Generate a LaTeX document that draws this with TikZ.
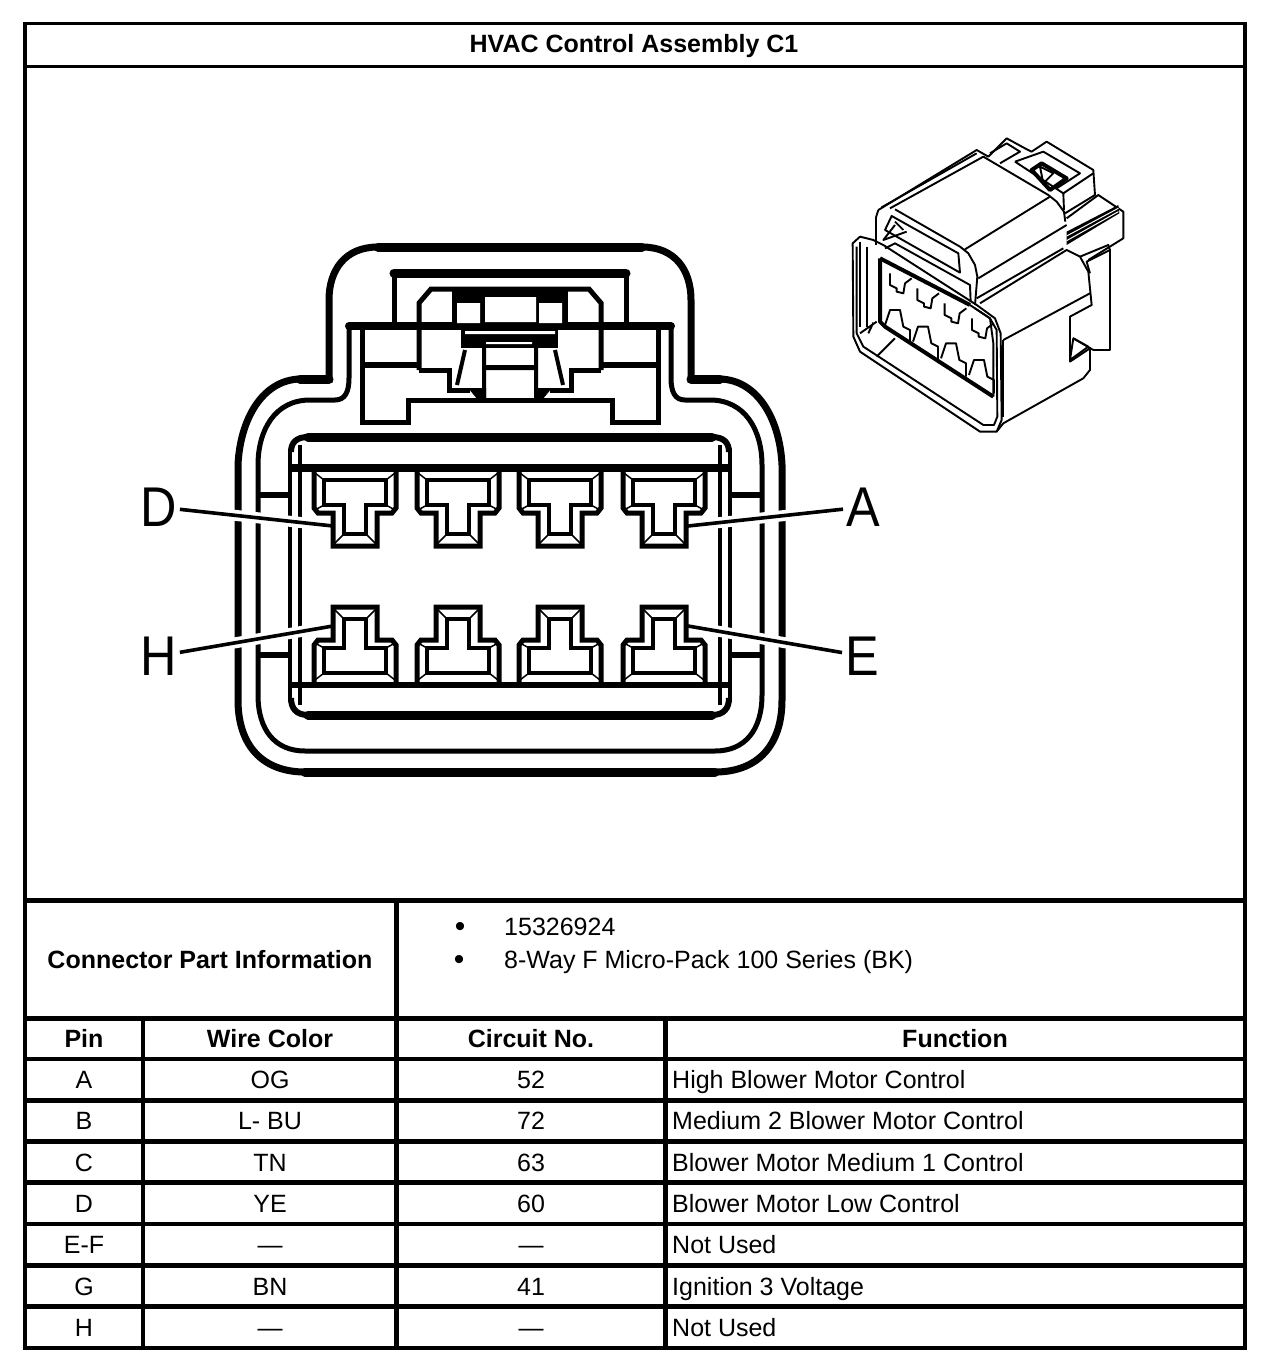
\documentclass[tikz,border=0pt]{standalone}
\usepackage{fontspec}
\setmainfont{Liberation Sans}
\usepackage{tikz}
\usetikzlibrary{positioning}

\tikzset{
	rule/.style={line width=4.5pt},
	framerule/.style={line width=3.4pt},
	cell/.style={anchor=base, inner sep=0pt, font=\fontsize{25}{30}\selectfont},
	head/.style={cell, font=\fontsize{25}{30}\selectfont\bfseries},
	pinlabel/.style={inner sep=3pt, font=\fontsize{56}{60}\selectfont},
	leader/.style={line width=3.6pt, preaction={draw, white, line width=11pt}},
	shell/.style={line width=7pt},
	wall/.style={line width=5pt},
	bar/.style={line width=9pt, line cap=round},
	iso/.style={line width=1.9pt, line join=round},
	isothick/.style={line width=4pt, line join=round},
	socket/.pic={
		\draw[line width=5pt] (-41,0) -- (-41,40) -- (-37,45) -- (-22,45) -- (-22,78) -- (22,78) -- (22,45) -- (37,45) -- (41,40) -- (41,0);
		\draw[line width=4pt] (-31,12) -- (31,12) -- (31,37) -- (11,37) -- (11,66) -- (-11,66) -- (-11,37) -- (-31,37) -- cycle;
		\draw[line width=1.5pt] (-40,5) -- (-31,12) (40,5) -- (31,12) (-40,42) -- (-31,37) (40,42) -- (31,37)
			(-21,76) -- (-11,66) (21,76) -- (11,66);
	}
}

\begin{document}
\begin{tikzpicture}[x=1pt, y=-1pt]
	\useasboundingbox (0,0) rectangle (1264,1370);

	% table rules
	\draw[framerule] (25,23.5) rectangle (1245,900);
	\draw[framerule] (25,66.5) -- (1245,66.5);
	\draw[rule] (25,900.5) -- (1245,900.5);
	\draw[rule] (25,900) -- (25,1348) -- (1245,1348) -- (1245,900);
	\draw[rule] (396.5,900) -- (396.5,1348);
	\draw[rule] (143,1018) -- (143,1348);
	\draw[line width=5pt] (665,1018) -- (665,1348);
	\foreach \liney in {1018.3,1059,1100.3,1141.5,1182.7,1224,1265.5,1306.5}
		\draw[rule] (25,\liney) -- (1245,\liney);

	% texts of the table
	\node[head] (title) at (634,53) {HVAC Control Assembly C1};
	\node[head] (partinfo) at (210,968) {Connector Part Information};
	\node[cell, font=\fontsize{30}{30}\selectfont] (bullet1) at (460,936) {•};
	\node[cell, font=\fontsize{30}{30}\selectfont] (bullet2) at (459,969) {•};
	\node[cell, anchor=base west] (partno) at (504,935) {15326924};
	\node[cell, anchor=base west] (parttype) at (504,968) {8-Way F Micro-Pack 100 Series (BK)};
	\node[head] (pinhead) at (84,1047.5) {Pin};
	\node[head] (wirehead) at (270,1047.5) {Wire Color};
	\node[head] (circuithead) at (531,1047.5) {Circuit No.};
	\node[head] (funchead) at (955,1047.5) {Function};
	\foreach \rowno/\pinname/\wirename/\circuitno/\funcname in {
		0/A/OG/52/High Blower Motor Control,
		1/B/L- BU/72/Medium 2 Blower Motor Control,
		2/C/TN/63/Blower Motor Medium 1 Control,
		3/D/YE/60/Blower Motor Low Control,
		4/E-F/—/—/Not Used,
		5/G/BN/41/Ignition 3 Voltage,
		6/H/—/—/Not Used}
	{
		\node[cell] (pin\rowno) at (84,{1088.5+41.3*\rowno}) {\pinname};
		\node[cell] (wire\rowno) at (270,{1088.5+41.3*\rowno}) {\wirename};
		\node[cell] (circuit\rowno) at (531,{1088.5+41.3*\rowno}) {\circuitno};
		\node[cell, anchor=base west] (func\rowno) at (672,{1088.5+41.3*\rowno}) {\funcname};
	}

	% connector face, outer shell
	\draw[shell] (329,379) -- (300,379) .. controls (262,380) and (240,420) .. (238,465) -- (238,700)
		.. controls (238,745) and (262,772) .. (305,772) -- (715,772)
		.. controls (758,772) and (782,745) .. (782,700) -- (782,465)
		.. controls (780,420) and (758,380) .. (720,379) -- (691,379) -- (691,300)
		.. controls (691,270) and (675,247) .. (642,247) -- (378,247)
		.. controls (345,247) and (329,270) .. (329,300) -- cycle;
	\draw[bar] (378,247) -- (642,247) (305,772.5) -- (715,772.5) (300,379) -- (329,379) (691,379) -- (720,379);
	\draw[wall] (349,326) -- (349,378) .. controls (349,392) and (345,400) .. (335,400) -- (310,400)
		.. controls (275,400) and (258,430) .. (258,465) -- (258,695)
		.. controls (258,730) and (275,751) .. (305,751) -- (715,751)
		.. controls (745,751) and (762,730) .. (762,695) -- (762,465)
		.. controls (762,430) and (745,400) .. (710,400) -- (685,400)
		.. controls (675,400) and (671,392) .. (671,378) -- (671,326);
	\draw[line width=5.5pt] (258,495) -- (290,495) (258,655) -- (290,655) (730,495) -- (762,495) (730,655) -- (762,655);

	% latch
	\draw[line width=8pt, line cap=round] (349,326) -- (671,326);
	\draw[wall] (394,326) -- (394,273) -- (626,273) -- (626,326);
	\draw[bar] (394,273) -- (626,273);
	\draw[wall] (362,326) -- (362,422) -- (408,422) -- (408,400) -- (612,400) -- (612,422) -- (658,422) -- (658,326);
	\draw[line width=6.5pt] (362,365) -- (419,365) (601,365) -- (658,365);
	\draw[wall] (419,370) -- (419,303) -- (431,289) -- (589,289) -- (601,303) -- (601,370);
	\draw[wall] (419,370) -- (449,370) -- (449,390) -- (470,390) (601,370) -- (571,370) -- (571,390) -- (550,390);
	\fill (452,287) rectangle (568,326);
	\fill[white] (485,297) rectangle (536,322) (457,303) rectangle (480,323) (539,303) rectangle (562,323);
	\fill (461,326) rectangle (558,348);
	\fill[white] (465,331) rectangle (555,334) (486,342) rectangle (532,344);
	\fill (482,348) rectangle (486,400) (534,348) rectangle (538,400) (482,365) rectangle (538,370);
	\fill (468,388) -- (486,388) -- (486,400) -- (478,400) -- cycle (552,388) -- (534,388) -- (534,400) -- (542,400) -- cycle;
	\draw[line width=4pt] (465,350) -- (457,385) (555,350) -- (563,385);

	% cavity
	\draw[bar] (308,437) -- (712,437);
	\draw[line width=8pt] (288,468) -- (732,468);
	\draw[line width=5.5pt] (288,685) -- (732,685);
	\draw[bar] (308,715) -- (712,715);
	\draw[line width=6pt] (291,452) .. controls (291,443) and (296,437) .. (308,437)
		(712,437) .. controls (724,437) and (729,443) .. (729,452)
		(291,698) .. controls (291,708) and (296,715) .. (308,715)
		(712,715) .. controls (724,715) and (729,708) .. (729,698);
	\draw[line width=4.3pt] (290,450) -- (290,700) (730,450) -- (730,700);
	\draw[line width=3.5pt] (300,445) -- (300,705) (720,445) -- (720,705);

	% leaders, then the sockets above them
	\node[pinlabel] (labelD) at (158.5,507) {\scalebox{.9}[1]{D}};
	\node[pinlabel] (labelA) at (863,507) {\scalebox{.9}[1]{A}};
	\node[pinlabel] (labelH) at (158.5,656) {\scalebox{.9}[1]{H}};
	\node[pinlabel] (labelE) at (862,656) {\scalebox{.9}[1]{E}};
	\coordinate (pinD) at (333,526);
	\coordinate (pinA) at (688,526);
	\coordinate (pinH) at (333,626);
	\coordinate (pinE) at (688,626);
	\draw[leader] (labelD) -- (pinD);
	\draw[leader] (labelA) -- (pinA);
	\draw[leader] (labelH) -- (pinH);
	\draw[leader] (labelE) -- (pinE);
	\foreach \sockx in {355,458,560,664} {
		\pic at (\sockx,468) {socket};
		\pic[yscale=-1] at (\sockx,685) {socket};
	}

	% small view of the connector
	\begin{scope}[shift={(840,130)}, xscale=0.3333, yscale=0.3333]
		\draw[iso] (115,240) -- (410,60) -- (445,80) -- (500,25) -- (555,55) -- (575,65) -- (620,35) -- (760,120) -- (765,195) -- (675,250);
		\draw[iso] (150,235) -- (430,80) -- (625,195) -- (650,215) -- (672,245) -- (676,275);
		\draw[iso] (125,232) -- (410,70);
		\draw[iso] (165,238) -- (360,350) -- (385,370) -- (405,405) -- (412,440) -- (405,525);
		\draw[iso] (375,358) -- (630,200);
		\draw[iso] (415,445) -- (680,285);
		\draw[iso] (115,240) -- (108,262) -- (108,345);
		\draw[iso] (155,258) -- (355,370) -- (360,428) -- (135,300) -- cycle;
		\draw[iso] (135,355) -- (165,340) -- (390,465) -- (392,515);
		\draw[iso] (165,285) -- (130,330) -- (200,305);
		\draw[iso] (165,275) -- (190,300);
		\draw[iso] (38,340) -- (40,620) -- (60,665) -- (420,905) -- (470,905) -- (485,870) -- (482,610) -- (465,565) -- (410,525) -- (130,345) -- (100,330) -- (60,320) -- cycle;
		\draw[iso] (50,350) -- (50,610) -- (70,650) -- (430,885) -- (462,885) -- (472,860) -- (470,600) -- (450,565) -- (405,535);
		\draw[iso] (60,335) -- (60,590) (80,350) -- (80,590);
		\draw[iso] (60,610) -- (110,575) (85,610) -- (100,578);
		\draw[iso] (110,680) -- (165,625);
		\draw[iso] (490,630) -- (490,860);
		\draw[iso] (490,630) -- (750,490);
		\draw[iso] (420,520) -- (680,360) -- (720,380) -- (745,425) -- (755,525) -- (690,560) -- (690,695) -- (750,655) -- (750,720) -- (730,745) -- (490,880) -- (470,905);
		\draw[iso] (410,505) -- (670,355);
		\draw[iso] (700,625) -- (760,660) -- (810,660) -- (810,360) -- (740,395) -- (750,430);
		\draw[iso] (720,380) -- (805,345) -- (810,360);
		\draw[iso] (700,625) -- (745,650) -- (690,690) -- cycle;
		\draw[iso] (680,265) -- (775,195) -- (850,245) -- (850,325) -- (745,390);
		\fill (680,305) -- (835,225) -- (838,250) -- (680,345) -- cycle;
		\draw[white, line width=1pt] (680,318) -- (835,235) (680,332) -- (835,245);
		\draw[iso] (450,70) -- (500,40) -- (540,65) -- (480,100);
		\draw[iso] (525,95) -- (610,65) -- (720,130) -- (650,175);
		\draw[isothick] (575,120) -- (605,100) -- (680,145) -- (630,180) -- cycle;
		\draw[iso] (600,110) -- (640,130) -- (610,160) -- cycle;
		\draw[iso] (525,95) -- (670,190) -- (672,240);
		\draw[iso] (670,190) -- (760,130);
		\draw[isothick] (120,385) -- (120,575) -- (135,590) -- (460,800);
		\draw[isothick] (120,385) -- (390,525);
		\draw[iso] (390,525) -- (450,565) -- (460,640) -- (460,800);
		\foreach \k in {0,1,2,3} {
			\begin{scope}[shift={({\k*82},{\k*45})}]
				\draw[iso] (150,430) -- (150,465) -- (170,475) -- (170,485) -- (190,490) -- (195,460) -- (215,445);
			\end{scope}
			\begin{scope}[shift={({\k*84},{\k*50})}]
				\draw[iso] (135,585) -- (150,540) -- (180,540) -- (190,590) -- (210,600) -- (210,640);
			\end{scope}
		}
	\end{scope}
\end{tikzpicture}
\end{document}
